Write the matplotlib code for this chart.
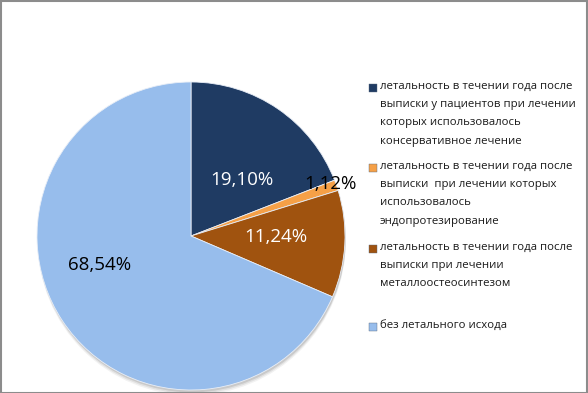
import matplotlib.pyplot as plt
import numpy as np
from matplotlib.patches import Rectangle, Circle

plt.rcParams['font.family'] = ['Open Sans', 'DejaVu Sans']

# data
values = [19.10, 1.12, 11.24, 68.54]
pct_text = ['19,10%', '1,12%', '11,24%', '68,54%']
labels = [
    'летальность в течении года после\nвыписки у пациентов при лечении\nкоторых использовалось\nконсервативное лечение',
    'летальность в течении года после\nвыписки  при лечении которых\nиспользовалось\nэндопротезирование',
    'летальность в течении года после\nвыписки при лечении\nметаллоостеосинтезом',
    'без летального исхода',
]
colors = ['#1f3b63', '#f5a047', '#a0530f', '#97bdec']
pct_colors = ['white', 'black', 'white', 'black']
# label positions (radius, angle deg) in pie coords
pct_pos = [(0.49, 47.7), (0.97, 20.5), (0.55, -1), (0.62, 197.7)]
# legend first-line centers in pixels from top
legend_y = [88, 168, 249, 327]

W, H = 588, 393
fig = plt.figure(figsize=(W / 100, H / 100), dpi=100)

cx, cy, r = 191, 236, 154
ax = fig.add_axes([(cx - r) / W, (H - cy - r) / H, 2 * r / W, 2 * r / H])
ax.set_xlim(-1, 1)
ax.set_ylim(-1, 1)

# soft shadow under the pie
for k, a in [(0.035, 0.05), (0.025, 0.07), (0.015, 0.1)]:
    ax.add_patch(Circle((0.005, -k), 1.0, facecolor='black', alpha=a,
                        edgecolor='none', clip_on=False))

wedges, _ = ax.pie(values, colors=colors, startangle=90, counterclock=False,
                   radius=1.0, wedgeprops=dict(edgecolor='#e8eef7', linewidth=0.6))
ax.set_xlim(-1, 1)
ax.set_ylim(-1, 1)
ax.set_aspect('auto')
ax.axis('off')

for txt, col, (rr, ang) in zip(pct_text, pct_colors, pct_pos):
    a = np.deg2rad(ang)
    ax.text(rr * np.cos(a), rr * np.sin(a), txt, color=col, fontsize=13.5,
            ha='center', va='center')

# legend drawn by hand to match spacing
for lab, col, yc in zip(labels, colors, legend_y):
    fig.patches.append(Rectangle((369 / W, (H - yc - 4) / H), 8 / W, 8 / H,
                                 transform=fig.transFigure, facecolor=col,
                                 edgecolor='#5a6a80', linewidth=0.3))
    fig.text(380 / W, (H - yc + 7) / H, lab, fontsize=8.2, va='top', ha='left',
             color='#1a1a1a', linespacing=1.9)

# outer border
fig.patches.append(Rectangle((0.5 / W, 0.5 / H), (W - 1.5) / W, (H - 1.5) / H,
                             transform=fig.transFigure, fill=False,
                             edgecolor='#8c8c8c', linewidth=1.5))

fig.savefig('out.png', dpi=100)
